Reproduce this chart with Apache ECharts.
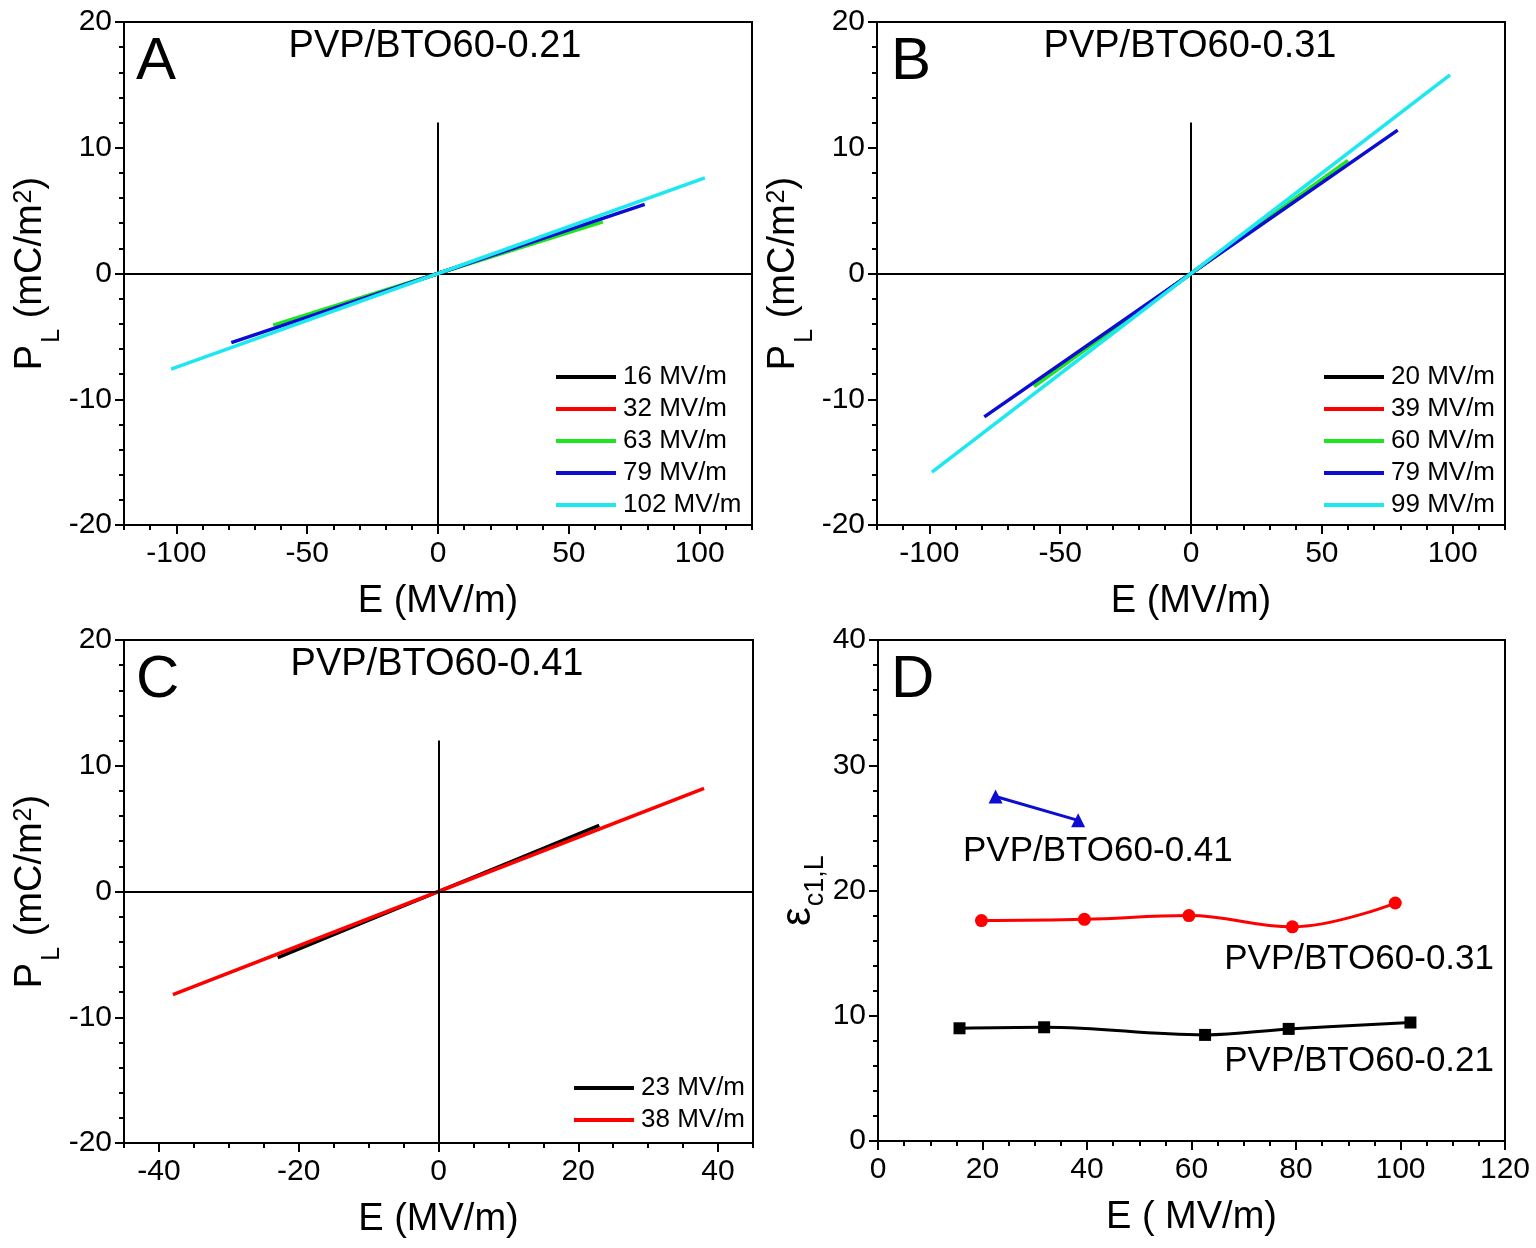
<!DOCTYPE html>
<html>
<head>
<meta charset="utf-8">
<script src="https://cdn.jsdelivr.net/npm/echarts@6/dist/echarts.min.js"></script>
<style>
  html, body { margin: 0; padding: 0; background: #fff; }
  #main { width: 1536px; height: 1248px; }
</style>
</head>
<body>
<div id="main"></div>
<script>
// panel A: PVP/BTO60-0.21, loop end points (E max, P at E max)
const fieldsA = [16, 32, 63, 79, 102];
const polA = [1.1, 2.2, 4.1, 5.5, 7.6];
// panel B: PVP/BTO60-0.31
const fieldsB = [20, 39, 60, 79, 99];
const polB = [3.0, 5.8, 9.0, 11.4, 15.8];
// panel C: PVP/BTO60-0.41
const fieldsC = [23, 38];
const polC = [5.25, 8.2];
// panel D: eps_c1,L vs E
const eD21 = [15.6, 31.8, 62.6, 78.6, 101.9];
const epsD21 = [9.0, 9.08, 8.47, 8.95, 9.46];
const eD31 = [19.8, 39.5, 59.5, 79.3, 99.0];
const epsD31 = [17.6, 17.7, 18.0, 17.1, 19.0];
const eD41 = [22.5, 38.3];
const epsD41 = [27.5, 25.6];

// tick labels
const xTicksAB = [-100, -50, 0, 50, 100];
const xTicksC = [-40, -20, 0, 20, 40];
const yTicksP = [-20, -10, 0, 10, 20];
const xTicksD = [0, 20, 40, 60, 80, 100, 120];
const yTicksD = [0, 10, 20, 30, 40];
// the vertical zero line stops at this P value
const vLineTop = 12;

const loopColors = ['#000000', '#ff0000', '#1ee61e', '#0c0cd2', '#1ee8ef'];
const FONT = 'Arial, "Liberation Sans", sans-serif';

var chart = echarts.init(document.getElementById('main'));

const grids = [
  { left: 124, top: 22, width: 628, height: 503 },
  { left: 877, top: 22, width: 628, height: 503 },
  { left: 124, top: 640, width: 629, height: 503 },
  { left: 878, top: 640, width: 627, height: 501 }
];

var xAxes = [], yAxes = [];

const pName = '{p|P}{s|L}{p| (mC/m}{u|2}{p|)}';
const pRich = {
  p: { fontSize: 38, fontFamily: FONT, color: '#000', lineHeight: 38, verticalAlign: 'top' },
  s: { fontSize: 25, fontFamily: FONT, color: '#000', lineHeight: 25, verticalAlign: 'top', padding: [28, 0, 0, 2] },
  u: { fontSize: 25, fontFamily: FONT, color: '#000', lineHeight: 25, verticalAlign: 'top', padding: [0, 0, 0, 1] }
};

function addAxes(g, xo, yo) {
  // major x axis (labels + long ticks)
  var xm = {
    type: 'value', gridIndex: g, position: 'bottom', min: xo.min, max: xo.max,
    name: xo.name, nameLocation: 'middle', nameGap: 58,
    nameTextStyle: { fontSize: 38, fontFamily: FONT, color: '#000' },
    axisLine: { show: true, onZero: false, lineStyle: { color: '#000', width: 2 } },
    axisTick: { length: 9, lineStyle: { color: '#000', width: 2 } },
    axisLabel: { fontSize: 30, fontFamily: FONT, color: '#000', margin: 14 },
    splitLine: { show: false }
  };
  if (xo.custom) {
    xm.axisTick.customValues = xo.ticks;
    xm.axisLabel.customValues = xo.ticks;
  } else {
    xm.interval = xo.ticks[1] - xo.ticks[0];
  }
  xAxes.push(xm);
  // minor x ticks
  xAxes.push({
    type: 'value', gridIndex: g, position: 'bottom', min: xo.min, max: xo.max, interval: xo.minor,
    axisLine: { show: false, onZero: false },
    axisTick: { length: 5, lineStyle: { color: '#000', width: 2 } },
    axisLabel: { show: false }, splitLine: { show: false }
  });
  yAxes.push({
    type: 'value', gridIndex: g, position: 'left', min: yo.min, max: yo.max,
    interval: yo.ticks[1] - yo.ticks[0],
    name: yo.name, nameLocation: 'middle', nameGap: yo.gap,
    nameTextStyle: { rich: yo.rich },
    axisLine: { show: true, onZero: false, lineStyle: { color: '#000', width: 2 } },
    axisTick: { length: 9, lineStyle: { color: '#000', width: 2 } },
    axisLabel: { fontSize: 30, fontFamily: FONT, color: '#000', margin: 12 },
    splitLine: { show: false }
  });
  yAxes.push({
    type: 'value', gridIndex: g, position: 'left', min: yo.min, max: yo.max, interval: yo.minor,
    axisLine: { show: false, onZero: false },
    axisTick: { length: 5, lineStyle: { color: '#000', width: 2 } },
    axisLabel: { show: false }, splitLine: { show: false }
  });
}

addAxes(0, { min: -120, max: 120, ticks: xTicksAB, custom: true, minor: 10, name: 'E (MV/m)' },
           { min: -20, max: 20, ticks: yTicksP, minor: 2, name: pName, rich: pRich, gap: 60 });
addAxes(1, { min: -120, max: 120, ticks: xTicksAB, custom: true, minor: 10, name: 'E (MV/m)' },
           { min: -20, max: 20, ticks: yTicksP, minor: 2, name: pName, rich: pRich, gap: 60 });
addAxes(2, { min: -45, max: 45, ticks: xTicksC, custom: true, minor: 5, name: 'E (MV/m)' },
           { min: -20, max: 20, ticks: yTicksP, minor: 2, name: pName, rich: pRich, gap: 60 });
addAxes(3, { min: 0, max: 120, ticks: xTicksD, custom: false, minor: 5, name: 'E ( MV/m)' },
           { min: 0, max: 40, ticks: yTicksD, minor: 2, name: '{e|ε}{s|c1,L}', gap: 50,
             rich: {
               e: { fontSize: 42, fontFamily: FONT, color: '#000', lineHeight: 42, verticalAlign: 'top' },
               s: { fontSize: 27, fontFamily: FONT, color: '#000', lineHeight: 27, verticalAlign: 'top', padding: [24, 0, 0, 1] }
             } });

var series = [];

function zeroLines(g, xmin, xmax) {
  series.push({
    type: 'line', xAxisIndex: 2 * g, yAxisIndex: 2 * g, data: [[0, 0]],
    showSymbol: false, lineStyle: { opacity: 0 }, silent: true, z: 1,
    markLine: {
      symbol: 'none', silent: true, label: { show: false }, animation: false,
      lineStyle: { color: '#000', width: 2, type: 'solid' },
      data: [
        [{ coord: [xmin, 0] }, { coord: [xmax, 0] }],
        [{ coord: [0, yAxes[2 * g].min] }, { coord: [0, vLineTop] }]
      ]
    }
  });
}

function loops(g, fields, pols) {
  fields.forEach(function (e, i) {
    series.push({
      name: e + ' MV/m', type: 'line', xAxisIndex: 2 * g, yAxisIndex: 2 * g,
      data: [[-e, -pols[i]], [0, 0], [e, pols[i]]],
      showSymbol: false, color: loopColors[i], z: 2 + i,
      lineStyle: { width: 3.5, color: loopColors[i] }
    });
  });
}

zeroLines(0, -120, 120);
zeroLines(1, -120, 120);
zeroLines(2, -45, 45);
loops(0, fieldsA, polA);
loops(1, fieldsB, polB);
loops(2, fieldsC, polC);

function pairs(xs, ys) { return xs.map(function (x, i) { return [x, ys[i]]; }); }

series.push({ name: 'D21', type: 'line', xAxisIndex: 6, yAxisIndex: 6, data: pairs(eD21, epsD21),
  smooth: 0.4, symbol: 'rect', symbolSize: 12, color: '#000', lineStyle: { width: 3, color: '#000' } });
series.push({ name: 'D31', type: 'line', xAxisIndex: 6, yAxisIndex: 6, data: pairs(eD31, epsD31),
  smooth: 0.4, symbol: 'circle', symbolSize: 13, color: '#f00', lineStyle: { width: 3, color: '#f00' } });
series.push({ name: 'D41', type: 'line', xAxisIndex: 6, yAxisIndex: 6, data: pairs(eD41, epsD41),
  symbol: 'triangle', symbolSize: 14, color: '#0c0cd2', lineStyle: { width: 3, color: '#0c0cd2' } });

function legendAt(left, top, fields) {
  return {
    orient: 'vertical', left: left, top: top, icon: 'rect', padding: 0,
    itemWidth: 60, itemHeight: 4, itemGap: 6, selectedMode: false,
    textStyle: { fontSize: 26, fontFamily: FONT, color: '#000', lineHeight: 25, padding: [0, 0, 0, 2] },
    data: fields.map(function (e) { return e + ' MV/m'; })
  };
}

function txt(x, y, s, size, align) {
  return { type: 'text', x: x, y: y, z: 100,
    style: { text: s, fontSize: size, fontFamily: FONT, fill: '#000', align: align || 'left', verticalAlign: 'middle' } };
}

var option = {
  animation: false,
  backgroundColor: '#fff',
  grid: grids.map(function (g) {
    return Object.assign({ show: true, borderColor: '#000', borderWidth: 2, backgroundColor: 'transparent' }, g);
  }),
  xAxis: xAxes,
  yAxis: yAxes,
  legend: [
    legendAt(556, 364, fieldsA),
    legendAt(1324, 364, fieldsB),
    legendAt(574, 1075, fieldsC)
  ],
  graphic: [
    txt(136, 62, 'A', 60), txt(891, 62, 'B', 60), txt(136, 680, 'C', 60), txt(891, 680, 'D', 60),
    txt(435, 47, 'PVP/BTO60-0.21', 38, 'center'),
    txt(1190, 47, 'PVP/BTO60-0.31', 38, 'center'),
    txt(437, 665, 'PVP/BTO60-0.41', 38, 'center'),
    txt(963, 851, 'PVP/BTO60-0.41', 35),
    txt(1494, 959, 'PVP/BTO60-0.31', 35, 'right'),
    txt(1494, 1061, 'PVP/BTO60-0.21', 35, 'right')
  ],
  series: series
};

chart.setOption(option);
</script>
</body>
</html>
